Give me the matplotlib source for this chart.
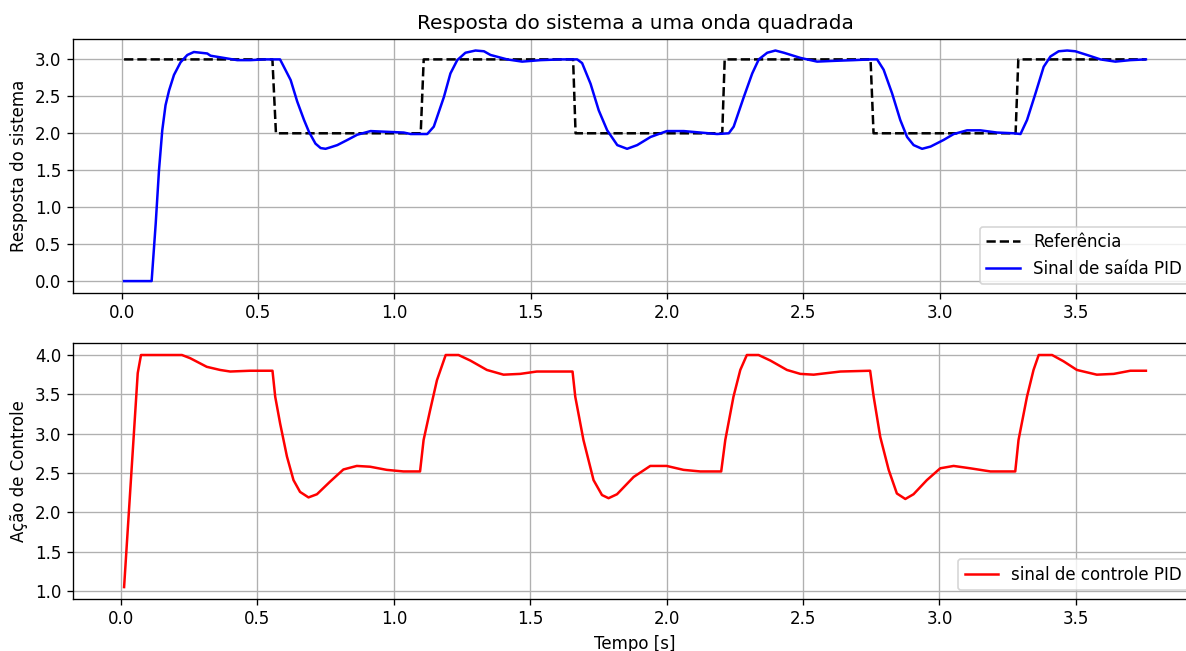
import matplotlib
matplotlib.use("Agg")
import matplotlib.pyplot as plt

# referencia (onda quadrada)
t_ref = [0.009, 0.553, 0.566, 1.097, 1.108, 1.656, 1.665, 2.203, 2.212,
         2.747, 2.758, 3.279, 3.289, 3.757]
y_ref = [3, 3, 2, 2, 3, 3, 2, 2, 3, 3, 2, 2, 3, 3]

# saida do sistema
t_out = [0.009, 0.110, 0.125, 0.137, 0.149, 0.161, 0.174, 0.192, 0.216, 0.241,
         0.265, 0.290, 0.314, 0.326, 0.375, 0.424, 0.473, 0.522, 0.553, 0.581,
         0.595, 0.620, 0.644, 0.669, 0.687, 0.711, 0.730, 0.748, 0.766, 0.791,
         0.828, 0.864, 0.913, 0.974, 1.035, 1.060, 1.121, 1.145, 1.182, 1.206,
         1.231, 1.261, 1.298, 1.329, 1.353, 1.414, 1.469, 1.537, 1.610, 1.671,
         1.689, 1.720, 1.750, 1.781, 1.818, 1.854, 1.891, 1.940, 2.000, 2.062,
         2.123, 2.184, 2.227, 2.245, 2.282, 2.313, 2.337, 2.368, 2.398, 2.429,
         2.490, 2.551, 2.612, 2.686, 2.746, 2.771, 2.795, 2.826, 2.856, 2.881,
         2.905, 2.936, 2.967, 3.015, 3.052, 3.101, 3.150, 3.211, 3.272, 3.297,
         3.321, 3.352, 3.382, 3.407, 3.437, 3.468, 3.498, 3.541, 3.590, 3.645,
         3.700, 3.757]
y_out = [0.0, 0.0, 0.78, 1.50, 2.04, 2.38, 2.58, 2.79, 2.96, 3.06,
         3.10, 3.09, 3.08, 3.05, 3.02, 2.99, 2.99, 3.0, 3.0, 3.0,
         2.90, 2.72, 2.43, 2.18, 2.02, 1.86, 1.80, 1.79, 1.81, 1.84,
         1.91, 1.98, 2.03, 2.02, 2.01, 1.99, 1.99, 2.09, 2.49, 2.81,
         2.99, 3.09, 3.12, 3.11, 3.06, 3.00, 2.97, 2.99, 3.0, 3.0,
         2.95, 2.67, 2.31, 2.04, 1.84, 1.79, 1.84, 1.95, 2.03, 2.03,
         2.01, 1.99, 2.0, 2.09, 2.49, 2.81, 3.0, 3.09, 3.12, 3.09,
         3.02, 2.97, 2.98, 2.99, 3.0, 3.0, 2.86, 2.54, 2.18, 1.95,
         1.84, 1.79, 1.82, 1.91, 1.99, 2.04, 2.04, 2.01, 2.0, 1.99,
         2.18, 2.54, 2.90, 3.04, 3.11, 3.12, 3.11, 3.06, 3.0, 2.97,
         2.99, 3.0]

# acao de controle
t_u = [0.011, 0.061, 0.073, 0.223, 0.253, 0.314, 0.363, 0.400, 0.473, 0.555,
       0.565, 0.583, 0.608, 0.632, 0.656, 0.687, 0.718, 0.766, 0.815, 0.864,
       0.913, 0.974, 1.035, 1.096, 1.109, 1.133, 1.158, 1.190, 1.237, 1.280,
       1.341, 1.402, 1.463, 1.524, 1.655, 1.665, 1.695, 1.732, 1.763, 1.787,
       1.818, 1.879, 1.940, 2.000, 2.062, 2.123, 2.200, 2.215, 2.245, 2.270,
       2.294, 2.337, 2.380, 2.441, 2.490, 2.539, 2.637, 2.746, 2.759, 2.783,
       2.814, 2.844, 2.875, 2.905, 2.954, 3.003, 3.052, 3.113, 3.187, 3.278,
       3.290, 3.321, 3.345, 3.364, 3.413, 3.455, 3.504, 3.577, 3.639, 3.700,
       3.757]
u = [1.05, 3.77, 4.0, 4.0, 3.96, 3.85, 3.81, 3.79, 3.80, 3.80,
     3.47, 3.13, 2.71, 2.41, 2.26, 2.19, 2.23, 2.39, 2.545, 2.59,
     2.58, 2.54, 2.52, 2.52, 2.92, 3.30, 3.68, 4.0, 4.0, 3.93,
     3.81, 3.75, 3.76, 3.79, 3.79, 3.47, 2.92, 2.41, 2.22, 2.18,
     2.23, 2.45, 2.59, 2.59, 2.54, 2.52, 2.52, 2.92, 3.47, 3.81,
     4.0, 4.0, 3.93, 3.81, 3.76, 3.75, 3.79, 3.80, 3.47, 2.96,
     2.54, 2.24, 2.17, 2.23, 2.41, 2.56, 2.59, 2.56, 2.52, 2.52,
     2.92, 3.47, 3.81, 4.0, 4.0, 3.92, 3.81, 3.75, 3.76, 3.80,
     3.80]

W, H = 1186, 651
fig = plt.figure(figsize=(W / 120, H / 120), dpi=120)
ax1 = fig.add_axes([73 / W, 1 - 292.6 / H, (1197 - 73) / W, (292.6 - 39) / H])
ax2 = fig.add_axes([73 / W, 1 - 598.7 / H, (1197 - 73) / W, (598.7 - 343.4) / H])

ax1.plot(t_ref, y_ref, 'k--', label='Referência')
ax1.plot(t_out, y_out, color='blue', label='Sinal de saída PID')
ax1.set_title('Resposta do sistema a uma onda quadrada')
ax1.set_ylabel('Resposta do sistema')
ax1.grid(True)
ax1.legend(loc='lower right')

ax2.plot(t_u, u, color='red', label='sinal de controle PID')
ax2.set_xlabel('Tempo [s]')
ax2.set_ylabel('Ação de Controle')
ax2.grid(True)
ax2.legend(loc='lower right')

fig.savefig('out.png', dpi=120)
